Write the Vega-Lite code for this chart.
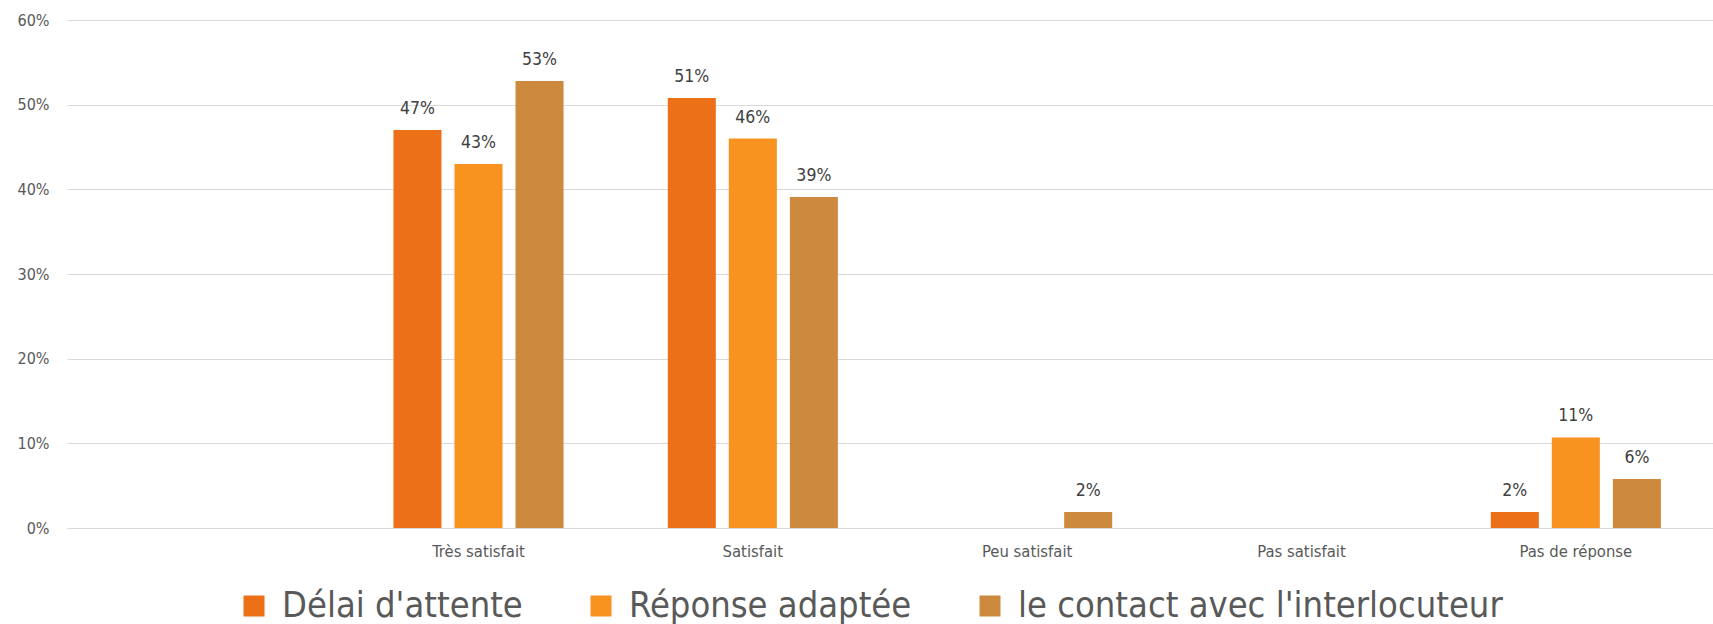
{
  "$schema": "https://vega.github.io/schema/vega-lite/v6.json",
  "autosize": {"type": "none"},
  "padding": {"left": 67, "top": 20, "right": 0, "bottom": 96},
  "width": 1646,
  "height": 508,
  "background": "white",
  "config": {
    "view": {"stroke": null},
    "font": "DejaVu Sans Condensed, Liberation Sans, sans-serif"
  },
  "data": {
    "values": [
      {"cat": "Très satisfait", "serie": "Délai d'attente", "v": 0.47},
      {"cat": "Très satisfait", "serie": "Réponse adaptée", "v": 0.43},
      {"cat": "Très satisfait", "serie": "le contact avec l'interlocuteur", "v": 0.528},
      {"cat": "Satisfait", "serie": "Délai d'attente", "v": 0.508},
      {"cat": "Satisfait", "serie": "Réponse adaptée", "v": 0.46},
      {"cat": "Satisfait", "serie": "le contact avec l'interlocuteur", "v": 0.391},
      {"cat": "Peu satisfait", "serie": "le contact avec l'interlocuteur", "v": 0.019},
      {"cat": "Pas de réponse", "serie": "Délai d'attente", "v": 0.019},
      {"cat": "Pas de réponse", "serie": "Réponse adaptée", "v": 0.107},
      {"cat": "Pas de réponse", "serie": "le contact avec l'interlocuteur", "v": 0.058}
    ]
  },
  "encoding": {
    "x": {
      "field": "cat", "type": "nominal", "sort": null,
      "scale": {"domain": ["", "Très satisfait", "Satisfait", "Peu satisfait", "Pas satisfait", "Pas de réponse"], "paddingInner": 0.38, "paddingOuter": 0.19},
      "axis": {"title": null, "labelAngle": 0, "labelFontSize": 16.5, "labelColor": "#595959", "labelPadding": 15, "ticks": false, "domainColor": "#d9d9d9", "domainWidth": 1, "labelFont": "DejaVu Sans Condensed, Liberation Sans, sans-serif"}
    },
    "xOffset": {
      "field": "serie", "type": "nominal",
      "scale": {"domain": ["Délai d'attente", "Réponse adaptée", "le contact avec l'interlocuteur"], "paddingInner": 0.213, "paddingOuter": 0.0}
    },
    "y": {
      "field": "v", "type": "quantitative",
      "scale": {"domain": [0, 0.6], "nice": false},
      "axis": {"title": null, "format": ".0%", "values": [0, 0.1, 0.2, 0.3, 0.4, 0.5, 0.6], "labelFontSize": 16, "labelColor": "#595959", "labelPadding": 18, "ticks": false, "domain": false, "gridColor": "#d9d9d9", "gridWidth": 1, "labelFont": "DejaVu Sans Condensed, Liberation Sans, sans-serif"}
    }
  },
  "layer": [
    {
      "mark": {"type": "bar"},
      "encoding": {
        "color": {
          "field": "serie", "type": "nominal",
          "scale": {"domain": ["Délai d'attente", "Réponse adaptée", "le contact avec l'interlocuteur"], "range": ["#EB7018", "#F7931E", "#CD8A3E"]},
          "legend": {
            "title": null, "orient": "none", "direction": "horizontal",
            "legendX": 169, "legendY": 568,
            "symbolType": "square", "symbolSize": 441, "symbolStrokeWidth": 0,
            "labelFontSize": 36, "labelColor": "#595959", "labelFont": "DejaVu Sans Condensed, Liberation Sans, sans-serif",
            "labelLimit": 0, "columnPadding": 60, "symbolOffset": 0, "labelOffset": 10
          }
        }
      }
    },
    {
      "mark": {"type": "text", "baseline": "bottom", "dy": -12, "fontSize": 17.5, "color": "#404040", "font": "DejaVu Sans Condensed, Liberation Sans, sans-serif"},
      "encoding": {
        "text": {"field": "v", "type": "quantitative", "format": ".0%"}
      }
    }
  ]
}
